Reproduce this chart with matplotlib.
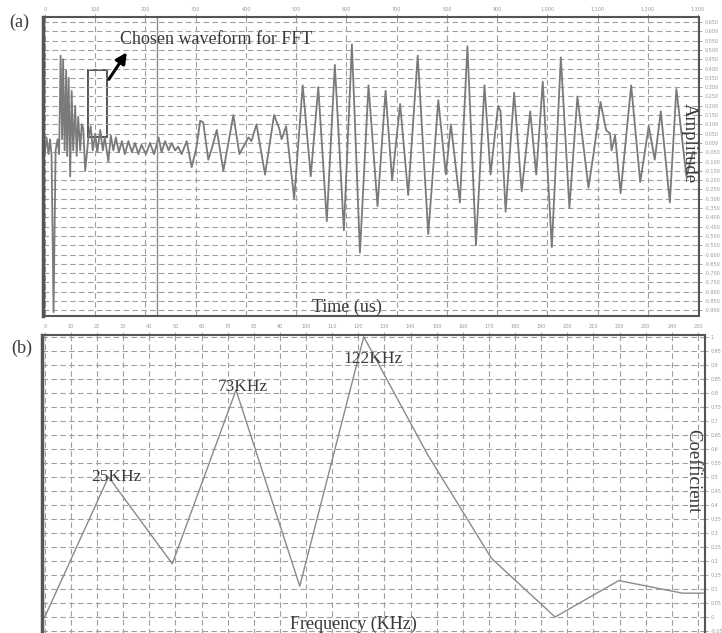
import numpy as np
import matplotlib
matplotlib.use("Agg")
import matplotlib.pyplot as plt
from matplotlib.patches import Rectangle

# (a) waveform vertices: time (us), amplitude
time_us = [0, 3, 7, 10, 13, 17, 21, 25, 28, 31, 34, 36, 39, 42, 44, 47, 50, 53, 56, 60,
           63, 66, 70, 73, 76, 80, 86, 91, 95, 100, 104, 110, 115, 119, 126, 131, 136, 141,
           147, 153, 159, 166, 173, 179, 186, 192, 201, 209, 217, 226, 232, 239, 246, 252,
           259, 265, 272, 282, 292, 301, 309, 315, 325, 332, 342, 355, 375, 387, 395, 405,
           411, 421, 438, 456, 466, 471, 480, 496, 513, 529, 544, 561, 577, 595, 611, 627,
           644, 662, 678, 691, 707, 723, 742, 763, 783, 798, 808, 826, 841, 858, 875, 887,
           902, 907, 917, 934, 949, 966, 978, 991, 1009, 1027, 1044, 1060, 1082, 1092, 1106,
           1117, 1125, 1128, 1135, 1146, 1167, 1185, 1202, 1214, 1226, 1244, 1257, 1277, 1290]
amplitude = [-0.04, 0.03, -0.06, 0.02, -0.07, -0.91, -0.04, 0.02, -0.06, 0.47, 0.02, 0.45,
             -0.04, 0.39, -0.07, 0.35, -0.18, 0.28, -0.04, 0.20, -0.07, 0.14, -0.04, 0.10,
             0.08, -0.15, 0.02, 0.09, -0.04, 0.05, -0.05, 0.07, -0.04, 0.03, -0.10, 0.04,
             -0.04, 0.03, -0.05, 0.01, -0.06, 0.01, -0.05, 0.00, -0.06, -0.01, -0.06, 0.00,
             -0.06, 0.03, -0.05, 0.01, -0.04, 0.00, -0.04, -0.02, -0.06, 0.01, -0.13, -0.03,
             0.12, 0.11, -0.09, -0.03, 0.07, -0.15, 0.15, -0.06, -0.02, 0.03, 0.01, 0.10,
             -0.17, 0.15, 0.08, 0.02, 0.09, -0.30, 0.31, -0.18, 0.30, -0.42, 0.42, -0.47,
             0.53, -0.59, 0.31, -0.34, 0.28, -0.20, 0.21, -0.28, 0.47, -0.49, 0.23, -0.17,
             0.10, -0.32, 0.52, -0.55, 0.31, -0.17, 0.20, 0.17, -0.37, 0.27, -0.26, 0.17,
             -0.17, 0.33, -0.56, 0.46, -0.35, 0.25, -0.24, -0.06, 0.22, 0.07, 0.05, -0.04,
             0.04, -0.27, 0.31, -0.21, 0.09, -0.09, 0.17, -0.32, 0.29, -0.18, -0.05]

# chosen window for the FFT (us / amplitude)
window_start, window_end = 86, 123
window_low, window_high = 0.03, 0.39

# (b) spectrum
freq_khz = [0, 24.4, 48.8, 73.2, 97.6, 122.1, 146.5, 170.9, 195.3, 219.7, 244.1, 252]
coefficient = [0.0, 0.50, 0.19, 0.81, 0.11, 1.0, 0.58, 0.21, 0.0, 0.13, 0.085, 0.085]
peak_labels = ["25KHz", "73KHz", "122KHz"]
# where each peak label sits (kHz, coefficient)
label_pos = [(27.6, 0.50), (75.8, 0.82), (125.6, 0.92)]

serif = "Liberation Serif"
grid_col = "#a0a0a0"
spine_col = "#555555"
text_col = "#3a3a3a"

fig = plt.figure(figsize=(7.22, 6.33), dpi=100)
ax1 = fig.add_axes([0.0596, 0.501, 0.9085, 0.472])
ax2 = fig.add_axes([0.058, -0.011, 0.9185, 0.482])

for ax in (ax1, ax2):
    ax.tick_params(top=True, labeltop=True, bottom=False, labelbottom=False,
                   right=True, labelright=True, left=False, labelleft=False,
                   length=2, width=0.6, colors="#999999", labelsize=3.5, pad=2)
    ax.grid(True, ls=(0, (5, 3)), color=grid_col, lw=0.8)
    for s in ax.spines.values():
        s.set_color(spine_col)
        s.set_linewidth(1.5)
    ax.spines["left"].set_linewidth(2.5)

# ---- (a) waveform
ax1.plot(time_us, amplitude, color="#7a7a7a", lw=1.3, solid_joinstyle="round")
ax1.set_xlim(-4, 1302)
ax1.set_ylim(-0.93, 0.677)
ax1.set_xticks(np.arange(0, 1301, 100))
ax1.set_xticklabels([f"{v:,}" for v in range(0, 1301, 100)])
yt = np.round(np.arange(-0.9, 0.66, 0.05), 2)
ax1.set_yticks(yt)
ax1.set_yticklabels([f"{v:.3f}" for v in yt])
ax1.axvline(223, color="#8a8a8a", lw=1)
ax1.add_patch(Rectangle((window_start, window_low), window_end - window_start,
                        window_high - window_low, fill=False, ec="#555555", lw=1.4))
ax1.annotate("", xy=(166, 0.50), xytext=(124, 0.33),
             arrowprops=dict(arrowstyle="-|>", color="black", lw=2.2, mutation_scale=16))
ax1.text(150, 0.555, "Chosen waveform for FFT", family=serif, fontsize=13,
         color=text_col, va="center", ha="left")
ax1.text(0.463, 0.03, "Time (us)", transform=ax1.transAxes, family=serif,
         fontsize=13, color=text_col, ha="center", va="center")
ax1.text(0.985, 0.58, "Amplitude", transform=ax1.transAxes, family=serif,
         fontsize=13.5, color=text_col, rotation=-90, ha="center", va="center")

# ---- (b) spectrum
ax2.plot(freq_khz, coefficient, color="#8a8a8a", lw=1.0)
ax2.set_xlim(-1.1, 252.7)
ax2.set_ylim(-0.082, 1.007)
ax2.set_xticks(np.arange(0, 251, 10))
ax2.set_xticklabels([str(v) for v in range(0, 251, 10)])
yt2 = np.round(np.arange(-0.05, 1.01, 0.05), 2)
ax2.set_yticks(yt2)
ax2.set_yticklabels([f"{v:g}" for v in yt2])
for lab, (f, v) in zip(peak_labels, label_pos):
    ax2.text(f, v, lab, family=serif, fontsize=12.5, color=text_col,
             ha="center", va="center")
ax2.text(0.47, 0.05, "Frequency (KHz)", transform=ax2.transAxes, family=serif,
         fontsize=13, color=text_col, ha="center", va="center")
ax2.text(0.982, 0.555, "Coefficient", transform=ax2.transAxes, family=serif,
         fontsize=13.5, color=text_col, rotation=-90, ha="center", va="center")

fig.text(19 / 722, 1 - 22 / 633, "(a)", family=serif, fontsize=13, color=text_col,
         ha="center", va="center")
fig.text(22 / 722, 1 - 348 / 633, "(b)", family=serif, fontsize=13, color=text_col,
         ha="center", va="center")

fig.savefig("out.png", dpi=100)
